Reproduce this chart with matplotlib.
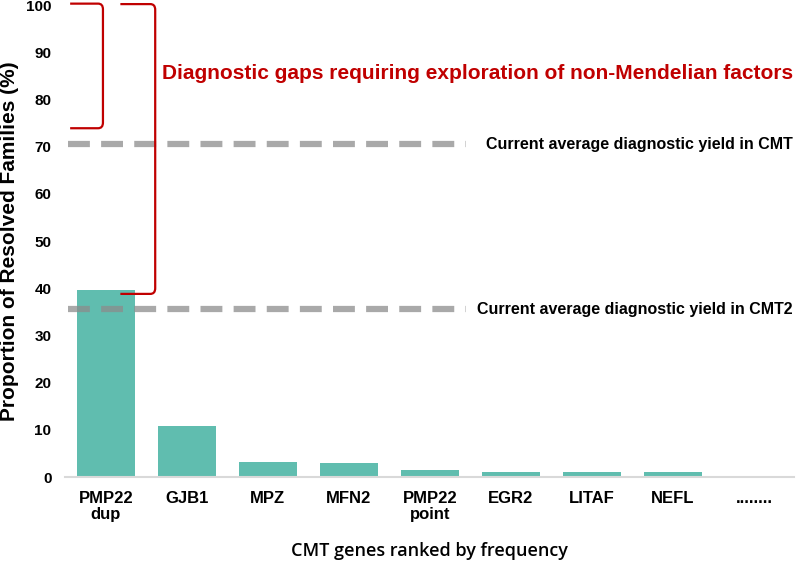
import matplotlib
matplotlib.use("Agg")
import matplotlib.pyplot as plt
from matplotlib.path import Path
from matplotlib.patches import PathPatch

# data
genes = ["PMP22\ndup", "GJB1", "MPZ", "MFN2", "PMP22\npoint", "EGR2", "LITAF", "NEFL", "........"]
proportions = [39.6, 10.9, 3.2, 3.0, 1.5, 1.1, 1.1, 1.1]
yield_cmt = 70.5
yield_cmt2 = 35.5
gap_small = (73.9, 100.3)
gap_large = (38.8, 100.2)

BAR = "#60bdaf"
RED = "#c00000"
NARROW = ["Liberation Sans Narrow", "Liberation Sans", "DejaVu Sans"]
ARIAL = ["Liberation Sans", "DejaVu Sans"]


def bracket(ax, x0, x1, y0, y1, rx=0.06, ry=1.2):
    """Right-facing square bracket with rounded corners, in data coords."""
    verts = [(x0, y1), (x1 - rx, y1), (x1, y1), (x1, y1 - ry),
             (x1, y0 + ry), (x1, y0), (x1 - rx, y0), (x0, y0)]
    codes = [Path.MOVETO, Path.LINETO, Path.CURVE3, Path.CURVE3,
             Path.LINETO, Path.CURVE3, Path.CURVE3, Path.LINETO]
    ax.add_patch(PathPatch(Path(verts, codes), fill=False, edgecolor=RED,
                           lw=1.6, clip_on=False, zorder=4))


fig = plt.figure(figsize=(8, 5.61), dpi=100)
ax = fig.add_axes([0.0816, 0.1497, 0.9114, 0.8413])

x = list(range(len(proportions)))
ax.bar(x, proportions, width=0.72, color=BAR, zorder=2)

ax.set_xlim(-0.5, len(genes) - 0.5)
ax.set_ylim(0, 100)
ax.set_yticks(range(0, 101, 10))
ax.set_xticks(range(len(genes)))
ax.set_xticklabels(genes, fontweight="bold", fontsize=12, family=ARIAL,
                   linespacing=1.1)
for lab in ax.get_yticklabels():
    lab.set_fontweight("bold")
    lab.set_fontsize(11)
    lab.set_family(ARIAL)
ax.tick_params(length=0)
ax.tick_params(axis="y", pad=10)
ax.tick_params(axis="x", pad=10)

for s in ["top", "right", "left"]:
    ax.spines[s].set_visible(False)
ax.spines["bottom"].set_color("#d9d9d9")
ax.spines["bottom"].set_linewidth(1.5)

# average diagnostic yield lines
for val, txt in [(yield_cmt, "Current average diagnostic yield in CMT"),
                 (yield_cmt2, "Current average diagnostic yield in CMT2")]:
    ax.plot([-0.47, 4.45], [val, val], color="#8c8c8c", alpha=0.75, lw=4.5,
            dashes=(3.5, 1.8), solid_capstyle="butt", zorder=3)
    ax.text(8.48, val, txt, ha="right", va="center", fontsize=11.5,
            fontweight="bold", family=NARROW)

bracket(ax, -0.44, -0.035, gap_small[0], gap_small[1])
bracket(ax, 0.18, 0.61, gap_large[0], gap_large[1])
ax.text(0.7, 85.6, "Diagnostic gaps requiring exploration of non-Mendelian factors",
        color=RED, fontsize=15, fontweight="bold", family=NARROW,
        ha="left", va="center")

fig.text(0.012, 0.570, "Proportion of Resolved Families (%)", fontsize=15,
         fontweight="bold", family=ARIAL, rotation=90, ha="center", va="center")
ax.set_xlabel("CMT genes ranked by frequency", fontsize=13,
              fontweight="semibold", family=["Open Sans", "DejaVu Sans"],
              labelpad=14)

fig.savefig("out.png", dpi=100)
